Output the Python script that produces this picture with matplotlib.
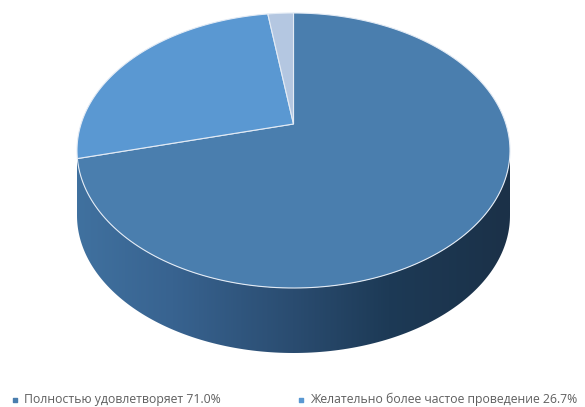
"""Perspective 3D pie with a shaded side wall, drawn on a pixel-sized axis."""

import matplotlib

matplotlib.use("Agg")
import matplotlib.pyplot as plt
import numpy as np
from matplotlib.patches import Polygon

LABELS = ["Полностью удовлетворяет", "Желательно более частое проведение"]
SHARES = [71.0, 26.7, 2.3]
COLORS = ["#4a7eae", "#5a98d2", "#b4c7e1"]

WIDTH, HEIGHT = 585, 407
APEX_X, APEX_Y = 293.5, 124.0
TOP_Y, BOTTOM_Y = 13.0, 288.0
HALF_WIDTH = 216.5
DEPTH = 65.0


def project(angle):
    """Map clockwise pie angle (radians from 12 o'clock) to pixel coordinates."""
    tilt = (TOP_Y + BOTTOM_Y - 2 * APEX_Y) / (BOTTOM_Y - TOP_Y)
    scale_y = TOP_Y * (1 + tilt) - APEX_Y
    scale_x = HALF_WIDTH * np.sqrt(1 - tilt**2)
    u, v = np.sin(angle), np.cos(angle)
    denom = 1 + tilt * v
    return APEX_X + scale_x * u / denom, (APEX_Y + scale_y * v) / denom


def main():
    figure = plt.figure(figsize=(WIDTH / 100, HEIGHT / 100), dpi=100)
    axis = figure.add_axes([0, 0, 1, 1])
    axis.set_xlim(0, WIDTH)
    axis.set_ylim(HEIGHT, 0)
    axis.axis("off")

    # side wall: lower half of the rim pushed down, filled with a horizontal gradient
    full = np.linspace(0, 2 * np.pi, 361)
    rim_x, rim_y = project(full)
    left, right = rim_x.argmin(), rim_x.argmax()
    front = np.arange(right, left + 1)
    wall = np.vstack(
        [
            np.column_stack([rim_x[front], rim_y[front]]),
            np.column_stack([rim_x[front][::-1], rim_y[front][::-1] + DEPTH]),
        ]
    )
    wall_patch = Polygon(wall, closed=True, facecolor="none", edgecolor="none")
    axis.add_patch(wall_patch)
    ramp = matplotlib.colors.LinearSegmentedColormap.from_list(
        "wall",
        [
            (0.0, "#40719f"),
            (0.22, "#386390"),
            (0.5, "#2a4c70"),
            (0.72, "#1d3a56"),
            (1.0, "#1b3148"),
        ],
    )
    image = axis.imshow(
        np.linspace(0, 1, 256)[None, :],
        cmap=ramp,
        extent=(rim_x.min(), rim_x.max(), BOTTOM_Y + DEPTH, 100),
        aspect="auto",
        zorder=1,
    )
    image.set_clip_path(wall_patch)
    axis.set_xlim(0, WIDTH)
    axis.set_ylim(HEIGHT, 0)

    # top face, clockwise from 12 o'clock
    edges = np.cumsum([0] + SHARES) / sum(SHARES) * 2 * np.pi
    for start, stop, color in zip(edges[:-1], edges[1:], COLORS):
        arc_x, arc_y = project(np.linspace(start, stop, 200))
        points = np.column_stack(
            [np.r_[APEX_X, arc_x], np.r_[APEX_Y, arc_y]]
        )
        axis.add_patch(
            Polygon(
                points,
                closed=True,
                facecolor=color,
                edgecolor="#e3ebf5",
                linewidth=0.8,
                zorder=2,
            )
        )

    # legend along the bottom edge
    legend_x = [24, 310]
    for x, label, share, color in zip(legend_x, LABELS, SHARES, COLORS):
        axis.scatter(x - 9, 400, s=12, marker="s", color=color, zorder=3)
        axis.text(
            x,
            399.5,
            f"{label} {share:.1f}%",
            fontsize=8.85,
            family=["Liberation Sans Narrow", "Open Sans"],
            color="#5f5f5f",
            ha="left",
            va="center",
            zorder=3,
        )

    figure.savefig("out.png", dpi=100, facecolor="white")
    plt.close(figure)


if __name__ == "__main__":
    main()
